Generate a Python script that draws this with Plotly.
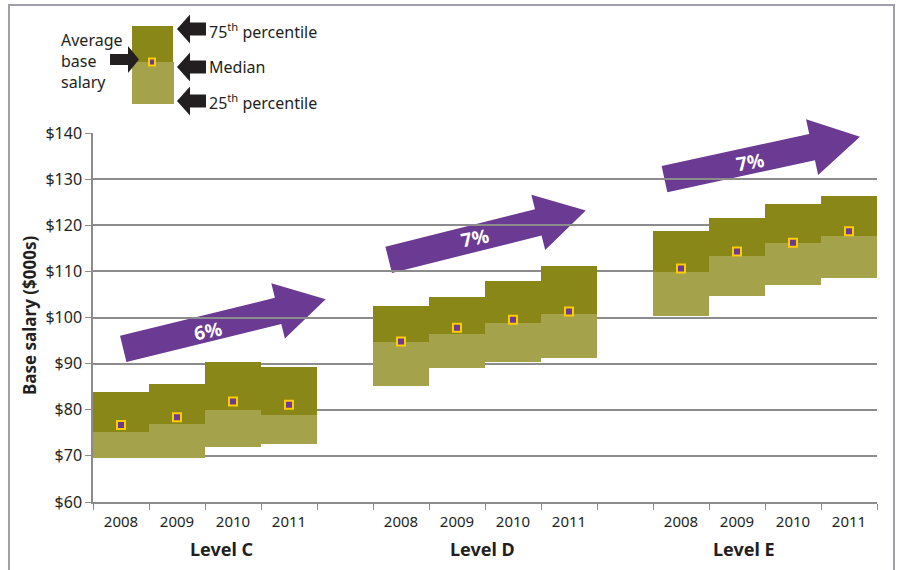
import math
import plotly.graph_objects as go

# ---------------- data ----------------
levels = ["Level C", "Level D", "Level E"]
years = ["2008", "2009", "2010", "2011"]
p25 = [[69.6, 69.6, 72.0, 72.6],
       [85.2, 89.1, 90.4, 91.3],
       [100.4, 104.7, 107.1, 108.6]]
median = [[75.2, 76.9, 80.0, 78.9],
          [94.7, 96.4, 98.8, 100.8],
          [109.9, 113.3, 116.2, 117.7]]
p75 = [[83.9, 85.6, 90.4, 89.3],
       [102.5, 104.4, 107.9, 111.2],
       [118.8, 121.6, 124.6, 126.3]]
average = [[76.7, 78.4, 81.8, 81.1],
           [94.8, 97.8, 99.5, 101.3],
           [110.6, 114.3, 116.2, 118.7]]
growth_labels = ["6%", "7%", "7%"]

# ---------------- style ----------------
DARK = "#888717"
LIGHT = "#A4A24B"
PURPLE = "#6B3A93"
GOLD = "#FFCC00"
TXT = "#231F20"
GRID = "#8C8C8C"
FONT = "Noto Sans, Open Sans, sans-serif"

W, H = 899, 570
L, R, T, B = 93, 877, 133, 502
XMIN, XMAX = -0.5, 13.5
YMIN, YMAX = 60, 140
GROUP_STRIDE = 5

def xpos(g, i):
    return g * GROUP_STRIDE + i

def dx2px(x):
    return L + (x - XMIN) / (XMAX - XMIN) * (R - L)

def dy2px(y):
    return B - (y - YMIN) / (YMAX - YMIN) * (B - T)

def px2paper(px, py):
    return (px - L) / (R - L), (B - py) / (B - T)

xs, lo_base, lo_h, hi_base, hi_h, avg = [], [], [], [], [], []
for g in range(len(levels)):
    for i in range(len(years)):
        xs.append(xpos(g, i))
        lo_base.append(p25[g][i])
        lo_h.append(median[g][i] - p25[g][i])
        hi_base.append(median[g][i])
        hi_h.append(p75[g][i] - median[g][i])
        avg.append(average[g][i])

fig = go.Figure()
fig.add_trace(go.Bar(x=xs, y=lo_h, base=lo_base, width=1.0,
                     marker=dict(color=LIGHT, line=dict(width=0)),
                     name="25th-median", showlegend=False, hoverinfo="skip"))
fig.add_trace(go.Bar(x=xs, y=hi_h, base=hi_base, width=1.0,
                     marker=dict(color=DARK, line=dict(width=0)),
                     name="median-75th", showlegend=False, hoverinfo="skip"))
fig.add_trace(go.Scatter(x=xs, y=avg, mode="markers",
                         marker=dict(symbol="square", size=8, color=PURPLE,
                                     line=dict(color=GOLD, width=2)),
                         showlegend=False, hoverinfo="skip"))

shapes = []
annotations = []

def arrow_path(tail, tip, sw, hw, hl):
    (tx, ty), (hx, hy) = tail, tip
    ln = math.hypot(hx - tx, hy - ty)
    ux, uy = (hx - tx) / ln, (hy - ty) / ln
    nx, ny = -uy, ux
    bx, by = hx - ux * hl, hy - uy * hl
    pts = [(tx + nx * sw / 2, ty + ny * sw / 2),
           (bx + nx * sw / 2, by + ny * sw / 2),
           (bx + nx * hw / 2, by + ny * hw / 2),
           (hx, hy),
           (bx - nx * hw / 2, by - ny * hw / 2),
           (bx - nx * sw / 2, by - ny * sw / 2),
           (tx - nx * sw / 2, ty - ny * sw / 2)]
    pp = [px2paper(px, py) for px, py in pts]
    return "M " + " L ".join(f"{a:.5f},{b:.5f}" for a, b in pp) + " Z"

# growth arrows (tail/tip in data coordinates)
growth_arrows = [((0.04, 93.2), (3.655, 103.95)),
                 ((4.78, 112.5), (8.30, 123.2)),
                 ((9.705, 130.0), (13.196, 139.2))]
growth_label_pos = [(1.55, 97.1), (6.32, 117.2), (11.23, 133.8)]
for (tail, tip), lab, (lx, ly) in zip(growth_arrows, growth_labels, growth_label_pos):
    tpx = (dx2px(tail[0]), dy2px(tail[1]))
    hpx = (dx2px(tip[0]), dy2px(tip[1]))
    shapes.append(dict(type="path", xref="paper", yref="paper", layer="below",
                       path=arrow_path(tpx, hpx, 27, 57, 49),
                       fillcolor=PURPLE, line=dict(width=0)))
    ang = math.degrees(math.atan2(hpx[1] - tpx[1], hpx[0] - tpx[0]))
    annotations.append(dict(x=lx, y=ly, xref="x", yref="y", text=f"<b>{lab}</b>",
                            showarrow=False, textangle=ang * 0.8,
                            xanchor="center", yanchor="middle",
                            font=dict(family=FONT, size=19, color="white")))

# legend key (pixel layout)
def rect(x0, y0, x1, y1, color):
    a0, b0 = px2paper(x0, y0)
    a1, b1 = px2paper(x1, y1)
    return dict(type="rect", xref="paper", yref="paper", x0=a0, y0=b0, x1=a1, y1=b1,
                fillcolor=color, line=dict(width=0), layer="above")

shapes.append(rect(132, 26, 173, 62, DARK))
shapes.append(rect(132, 62, 174, 104, LIGHT))
shapes.append(rect(148, 57.5, 156, 66.5, GOLD))
shapes.append(rect(150, 59.5, 154, 64.5, PURPLE))

for cy in (29, 67, 101):
    shapes.append(dict(type="path", xref="paper", yref="paper", layer="above",
                       path=arrow_path((206, cy), (177, cy), 13, 29, 13),
                       fillcolor=TXT, line=dict(width=0)))
shapes.append(dict(type="path", xref="paper", yref="paper", layer="above",
                   path=arrow_path((110, 59.5), (139, 59.5), 11, 27, 11),
                   fillcolor=TXT, line=dict(width=0)))

def ptxt(px, py, text, size=16, xanchor="left", yanchor="middle", align="left"):
    a, b = px2paper(px, py)
    annotations.append(dict(x=a, y=b, xref="paper", yref="paper", text=text,
                            showarrow=False, xanchor=xanchor, yanchor=yanchor,
                            align=align, font=dict(family=FONT, size=size, color=TXT)))

ptxt(207, 31, "75<sup>th</sup> percentile")
ptxt(207, 67, "Median")
ptxt(207, 102, "25<sup>th</sup> percentile")
ptxt(59, 27, "Average<br>base<br>salary", size=16, yanchor="top")

# level labels
level_x = [1.795, 6.46, 11.12]
for lab, lx in zip(levels, level_x):
    annotations.append(dict(x=lx, y=px2paper(0, 549)[1], xref="x", yref="paper",
                            text=f"<b>{lab}</b>", showarrow=False,
                            xanchor="center", yanchor="middle",
                            font=dict(family=FONT, size=18, color=TXT)))

# y-axis title
ax, ay = px2paper(29, 316)
annotations.append(dict(x=ax, y=ay, xref="paper", yref="paper",
                        text="<b>Base salary ($000s)</b>", showarrow=False, textangle=-90,
                        xanchor="center", yanchor="middle",
                        font=dict(family=FONT, size=17, color=TXT)))

# outer frame
fx0, fy0 = px2paper(9, 5)
fx1, fy1 = px2paper(894, 600)
shapes.append(dict(type="rect", xref="paper", yref="paper", x0=fx0, y0=fy1, x1=fx1, y1=fy0,
                   line=dict(color="#A0A0A8", width=2), fillcolor="rgba(0,0,0,0)", layer="above"))

tick_centers = [xpos(g, i) for g in range(len(levels)) for i in range(len(years))]
tick_text = [y for g in range(len(levels)) for y in years]
boundaries = [XMIN + k for k in range(int(XMAX - XMIN) + 1)]

fig.update_layout(
    width=W, height=H,
    margin=dict(l=L, r=W - R, t=T, b=H - B),
    paper_bgcolor="white", plot_bgcolor="rgba(0,0,0,0)",
    barmode="overlay", bargap=0,
    shapes=shapes, annotations=annotations,
    font=dict(family=FONT, size=16, color=TXT),
    xaxis=dict(range=[XMIN, XMAX], tickmode="array", tickvals=tick_centers, ticktext=tick_text,
               ticks="", showgrid=False, zeroline=False, showline=True, linecolor=GRID, linewidth=1.5,
               ticklabelstandoff=5,
               tickfont=dict(family=FONT, size=15, color=TXT),
               minor=dict(tickmode="array", tickvals=boundaries, ticks="outside", ticklen=6,
                          tickcolor=GRID, tickwidth=1.2, showgrid=False)),
    yaxis=dict(range=[YMIN, YMAX], tickmode="linear", tick0=60, dtick=10, tickprefix="$",
               ticks="outside", ticklen=6, tickcolor=GRID, tickwidth=1.2,
               showgrid=True, gridcolor=GRID, gridwidth=1.6, zeroline=False,
               showline=True, linecolor=GRID, linewidth=1.5,
               tickfont=dict(family=FONT, size=16, color=TXT)),
)

fig.write_html("out.html")
